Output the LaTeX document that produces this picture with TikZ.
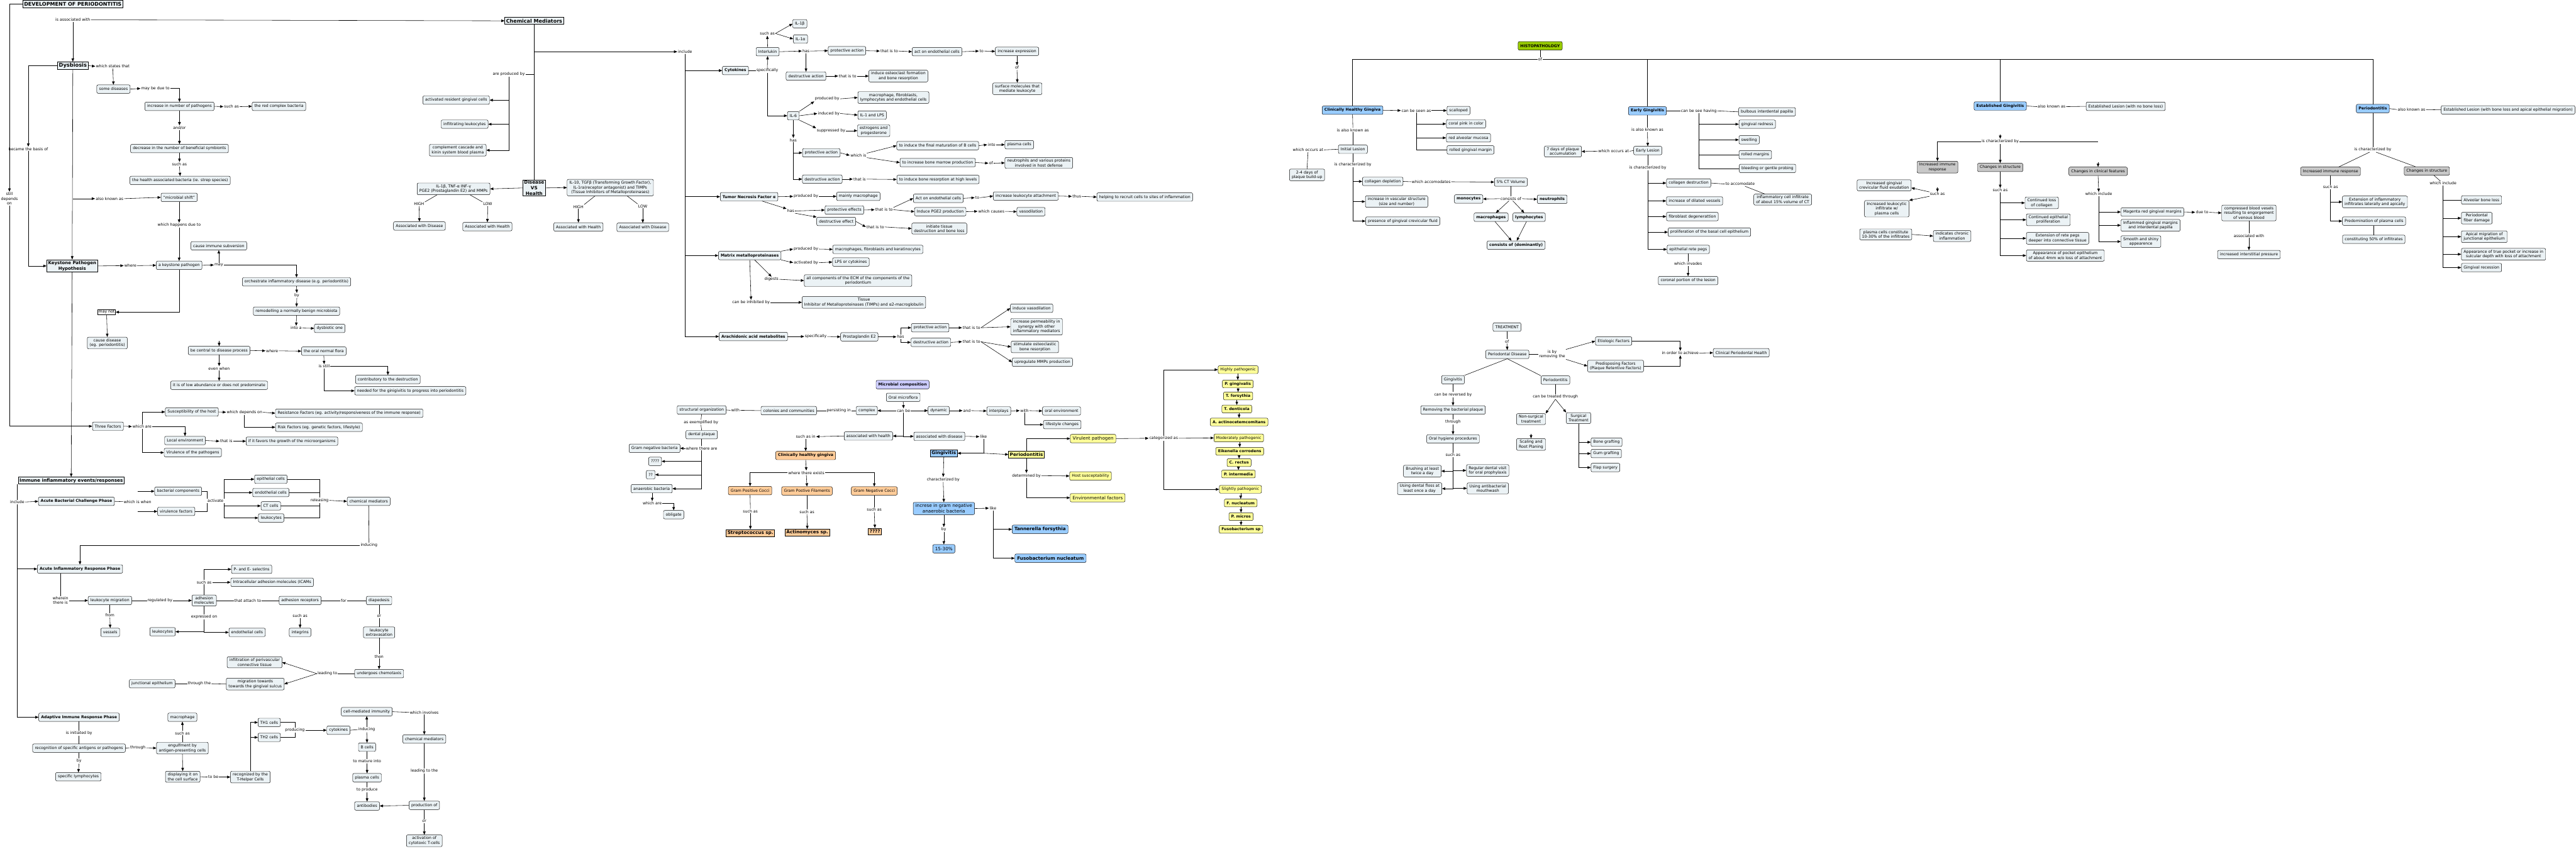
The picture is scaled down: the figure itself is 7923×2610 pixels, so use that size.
\documentclass[tikz,border=0pt]{standalone}
\usepackage{fontspec}
\setmainfont{DejaVu Sans}
\usetikzlibrary{arrows.meta}
\definecolor{nfill}{RGB}{235,242,245}
\definecolor{cblue}{RGB}{153,204,255}
\definecolor{cyel}{RGB}{255,255,153}
\definecolor{cora}{RGB}{255,204,153}
\definecolor{cgrn}{RGB}{153,204,0}
\definecolor{clav}{RGB}{204,204,255}
\definecolor{cgry}{RGB}{200,200,200}
\newcommand\fnorm{\fontsize{12}{14.5}\selectfont}
\newcommand\ffourteen{\fontsize{14}{17}\selectfont}
\newcommand\ftitle{\fontsize{15.5}{18}\selectfont\bfseries}
\newcommand\fdys{\fontsize{16}{19}\selectfont\bfseries}
\newcommand\fkph{\fontsize{13.5}{17}\selectfont\bfseries}
\newcommand\fimm{\fontsize{14}{17}\selectfont\bfseries}
\newcommand\fdvh{\fontsize{14}{16.8}\selectfont\bfseries}
\begin{document}
\begin{tikzpicture}[x=1pt,y=-1pt,
 box/.style={draw, rounded corners=4pt, fill=nfill, font=\fnorm, align=center, inner xsep=7pt, inner ysep=5pt, minimum height=26pt, line width=0.9pt},
 bbox/.style={box, font=\fnorm\bfseries},
 stg/.style={bbox, fill=cblue},
 gry/.style={box, fill=cgry},
 lab/.style={font=\fnorm, align=center, inner sep=2pt},
 tbox/.style={draw, line width=1.8pt, fill=nfill, align=center, inner xsep=4pt, inner ysep=2pt},
 rb14/.style={draw, line width=1pt, font=\ffourteen\bfseries, inner xsep=4pt, inner ysep=2pt, minimum height=21pt},
 ar/.style={-{Triangle[length=10pt,width=8pt]}, line width=1.1pt},
 ln/.style={line width=1.1pt}]
\fill[white] (0,0) rectangle (7923,2610);
\useasboundingbox (0,0) rectangle (7923,2610);

% ================= LEFT =================
\node[tbox,font=\ftitle,minimum height=24pt] (title) at (224,12) {DEVELOPMENT OF PERIODONTITIS};
\node[lab] (Lassoc) at (224,61) {is associated with};
\node[tbox,font=\ftitle,minimum height=21pt] (cm) at (1643,64) {Chemical Mediators};
\node[tbox,font=\fdys,minimum height=23pt] (dys) at (224,202) {Dysbiosis};
\node[lab] (Lstates) at (347,204) {which states that};
\node[box] (somedis) at (349,274) {some diseases};
\node[lab] (Lmaybe) at (478,272) {may be due to};
\node[box] (incpath) at (552,327) {increase in number of pathogens};
\node[lab] (Lsa1) at (712,328) {such as};
\node[box] (redcx) at (858,327) {the red complex bacteria};
\node[lab] (Landor) at (552,393) {and/or};
\node[box] (decsym) at (552,457) {decrease in the number of beneficial symbionts};
\node[lab] (Lsa2) at (552,505) {such as};
\node[box] (healthb) at (554,555) {the health associated bacteria (ie. strep species)};
\node[lab] (Lbasis) at (87,458) {became the basis of};
\node[lab] (Lstill) at (29,611) {still\\depends\\on};
\node[lab] (Laka) at (337,611) {also known as};
\node[box] (mshift) at (551,607) {``microbial shift''};
\node[lab] (Lhappens) at (551,693) {which happens due to};
\node[tbox,font=\fkph,minimum height=38pt] (kph) at (222,818) {Keystone Pathogen\\Hypothesis};
\node[lab] (Lwhere1) at (401,817) {where};
\node[box] (keyp) at (551,816) {a keystone pathogen};
\node[box] (cis) at (673,756) {cause immune subversion};
\node[lab] (Lmay) at (673,815) {may};
\node[box] (orch) at (912,867) {orchestrate inflammatory disease (e.g. periodontitis)};
\node[lab] (Lby1) at (913,909) {by};
\node[box] (remod) at (912,957) {remodelling a normally benign microbiota};
\node[lab] (Lintoa) at (911,1009) {into a};
\node[box] (dysone) at (1014,1010) {dysbiotic one};
\node[draw,fill=white,font=\fnorm,inner sep=2.5pt,line width=0.9pt] (maynot) at (328,960) {may not};
\node[box] (causedis) at (330,1055) {cause disease\\(eg. periodontitis)};
\node[box] (central) at (674,1078) {be central to disease process};
\node[lab] (Lwhere2) at (837,1079) {where};
\node[box] (oralflora) at (996,1080) {the oral normal flora};
\node[lab] (Levenwhen) at (674,1133) {even when};
\node[box] (lowab) at (674,1185) {it is of low abundance or does not predominate};
\node[lab] (Lisstill) at (997,1127) {is still};
\node[box] (contrib) at (1193,1167) {contributory to the destruction};
\node[box] (needed) at (1262,1202) {needed for the ginigivitis to progress into periodontitis};
\node[box] (three) at (332,1311) {Three Factors};
\node[lab] (Lwhichare) at (437,1312) {which are};
\node[box] (suscep) at (590,1267) {Susceptibility of the host};
\node[lab] (Ldepends) at (752,1268) {which depends on};
\node[box] (resist) at (1074,1271) {Resistance Factors (eg. activity/responsiveness of the immune response)};
\node[box] (risk) at (981,1314) {Risk Factors (eg. genetic factors, lifestyle)};
\node[box] (localenv) at (569,1355) {Local environment};
\node[lab] (Lthatis1) at (696,1357) {that is};
\node[box] (favors) at (898,1357) {if it favors the growth of the microorganisms};
\node[box] (virul) at (593,1392) {Virulence of the pathogens};

\node[tbox,font=\fimm,minimum height=21pt] (immune) at (219,1478) {Immune inflammatory events/responses};
\node[lab] (Linclude1) at (53,1544) {include};
\node[bbox] (abc) at (235,1542) {Acute Bacterial Challenge Phase};
\node[lab] (Lwhen) at (423,1543) {which is when};
\node[box] (bactcomp) at (548,1511) {bacterial components};
\node[box] (virfac) at (542,1573) {virulence factors};
\node[lab] (Lactivate) at (663,1541) {activate};
\node[box] (epi) at (833,1474) {epithelial cells};
\node[box] (endo) at (833,1515) {endothelial cells};
\node[box] (ctc) at (833,1556) {CT cells};
\node[box] (leukA) at (834,1593) {leukocytes};
\node[lab] (Lreleasing) at (983,1539) {releasing};
\node[box] (chemmedA) at (1134,1542) {chemical mediators};
\node[lab] (LinducingA) at (1135,1677) {inducing};

\node[bbox] (air) at (246,1750) {Acute Inflammatory Response Phase};
\node[lab] (Lwherein) at (186,1847) {wherein\\there is};
\node[box] (leukmig) at (338,1847) {leukocyte migration};
\node[lab] (Lregby) at (492,1847) {regulated by};
\node[box] (adhmol) at (628,1847) {adhesion\\molecules};
\node[lab] (Lsa3) at (628,1791) {such as};
\node[box] (pesel) at (774,1751) {P- and E- selectins};
\node[box] (icam) at (837,1791) {Intracellular adhesion molecules (ICAMs};
\node[lab] (Lattach) at (762,1847) {that attach to};
\node[box] (adhrec) at (923,1847) {adhesion receptors};
\node[lab] (Lfor) at (1057,1847) {for};
\node[box] (diaped) at (1166,1847) {diapedesis};
\node[lab] (Lfrom) at (338,1893) {from};
\node[box] (vessels) at (339,1945) {vessels};
\node[lab] (Lexpr) at (628,1898) {expressed on};
\node[box] (leukB) at (500,1943) {leukocytes};
\node[box] (endoB) at (760,1945) {endothelial cells};
\node[lab] (Lsa4) at (923,1895) {such as};
\node[box] (integ) at (923,1945) {integrins};
\node[lab] (Lor1) at (1166,1895) {or};
\node[box] (extrav) at (1166,1945) {leukocyte\\extravasation};
\node[lab] (Lthen) at (1166,2019) {then};
\node[box] (chemo) at (1166,2072) {undergoes chemotaxis};
\node[lab] (Lleading) at (1007,2072) {leading to};
\node[box] (infil) at (783,2037) {infiltration of perivascular\\connective tissue};
\node[box] (migtow) at (785,2104) {migration towards\\towards the gingival sulcus};
\node[lab] (Lthrough1) at (613,2103) {through the};
\node[box] (junct) at (468,2103) {junctional epithelium};

\node[bbox] (aip) at (243,2206) {Adaptive Immune Response Phase};
\node[lab] (Linit) at (243,2255) {is initiated by};
\node[box] (recog) at (243,2301) {recognition of specific antigens or pathogens};
\node[lab] (Lby2) at (243,2341) {by};
\node[box] (speclym) at (241,2389) {specific lymphocytes};
\node[lab] (Lthrough2) at (424,2300) {through};
\node[box] (engulf) at (561,2301) {engulfment by\\antigen-presenting cells};
\node[lab] (Lsa5) at (561,2255) {such as};
\node[box] (macroA) at (561,2206) {macrophage};
\node[box] (displ) at (562,2389) {displaying it on\\the cell surface};
\node[lab] (Ltobe) at (656,2390) {to be};
\node[box] (recogth) at (770,2390) {recognized by the\\T-Helper Cells};
\node[box] (th1) at (828,2222) {TH1 cells};
\node[box] (th2) at (828,2268) {TH2 cells};
\node[lab] (Lproducing) at (907,2246) {producing};
\node[box] (cytoA) at (1041,2246) {cytokines};
\node[lab] (LinducingB) at (1128,2244) {inducing};
\node[box] (cellmed) at (1128,2189) {cell-mediated immunity};
\node[box] (bcells) at (1129,2298) {B cells};
\node[lab] (Linvolves) at (1305,2191) {which involves};
\node[box] (chemmedB) at (1305,2273) {chemical mediators};
\node[lab] (Lmature) at (1129,2341) {to mature into};
\node[box] (plasmaA) at (1129,2392) {plasma cells};
\node[lab] (Ltoproduce) at (1129,2430) {to produce};
\node[box] (antib) at (1129,2479) {antibodies};
\node[lab] (Lleadingto) at (1305,2371) {leading to the};
\node[box] (prodof) at (1305,2477) {production of};
\node[lab] (Lor2) at (1305,2526) {or};
\node[box] (cytot) at (1305,2586) {activation of\\cytotoxic T-cells};

% ================= CHEMICAL MEDIATORS =================
\node[lab] (Lproduced) at (1565,228) {are produced by};
\node[box] (argc) at (1403,308) {activated resident gingival cells};
\node[box] (infleuk) at (1429,382) {infiltrating leukocytes};
\node[box] (compl) at (1408,462) {complement cascade and\\kinin system blood plasma};
\node[tbox,font=\fdvh] (dvh) at (1643,578) {Disease\\VS\\Health};
\node[box] (ilA) at (1395,581) {IL-1β, TNF-α INF-γ\\PGE2 (Prostaglandin E2) and MMPs};
\node[box] (ilB) at (1877,577) {IL-10, TGFβ (Transforming Growth Factor),\\IL-1ra(receptor antagonist) and TIMPs\\(Tissue Inhibitors of Metalloproteinases)};
\node[lab] (Lhigh1) at (1289,628) {HIGH};
\node[lab] (Llow1) at (1500,628) {LOW};
\node[box] (awd1) at (1290,695) {Associated with Disease};
\node[box] (awh1) at (1499,697) {Associated with Health};
\node[lab] (Lhigh2) at (1779,636) {HIGH};
\node[lab] (Llow2) at (1977,634) {LOW};
\node[box] (awh2) at (1779,698) {Associated with Health};
\node[box] (awd2) at (1977,699) {Associated with Disease};

\node[lab] (Linclude2) at (2107,159) {include};
\node[bbox] (cytok) at (2262,217) {Cytokines};
\node[lab] (Lspec1) at (2360,217) {specifically};
\node[box] (interl) at (2361,159) {Interlukin};
\node[lab] (Lsa6) at (2360,103) {such as};
\node[box] (il1b) at (2460,73) {IL-1β};
\node[box] (il1a) at (2462,120) {IL-1α};
\node[lab] (Lhas1) at (2479,157) {has};
\node[box] (prot1) at (2605,156) {protective action};
\node[box] (destr1) at (2479,234) {destructive action};
\node[lab] (Ltit1) at (2735,157) {that is to};
\node[box] (actendo1) at (2882,159) {act on endothelial cells};
\node[lab] (Lto1) at (3019,157) {to};
\node[box] (incexp) at (3128,158) {increase expression};
\node[lab] (Lof1) at (3128,208) {of};
\node[box] (surfmol) at (3129,273) {surface molecules that\\mediate leukocyte};
\node[lab] (Ltit2) at (2607,234) {that is to};
\node[box] (osteo) at (2763,234) {induce osteoclast formation\\and bone resorption};
\node[box] (il6) at (2440,356) {IL-6};
\node[lab] (Lprodby1) at (2544,304) {produced by};
\node[box,anchor=west] (macfib) at (2638,300) {macrophage, fibroblasts,\\lymphocytes and endothelial cells};
\node[lab] (Lindby) at (2549,349) {induced by};
\node[box,anchor=west] (il1lps) at (2638,354) {IL-1 and LPS};
\node[lab] (Lsuppby) at (2556,402) {suppressed by};
\node[box,anchor=west] (estro) at (2637,402) {estrogens and\\progesterone};
\node[lab] (Lhas2) at (2440,431) {has};
\node[box] (prot2) at (2526,470) {protective action};
\node[box] (destr2) at (2529,551) {destructive action};
\node[lab] (Lwhichis) at (2640,478) {which is};
\node[box] (finalmat) at (2884,448) {to induce the final maturation of B cells};
\node[lab] (Linto) at (3050,445) {into};
\node[box] (plasmaB) at (3135,445) {plasma cells};
\node[box] (bonemar) at (2884,500) {to increase bone marrow production};
\node[lab] (Lof2) at (3048,502) {of};
\node[box] (neutro) at (3195,501) {neutrophils and various proteins\\involved in host defense};
\node[lab] (Lthatis2) at (2644,551) {that is};
\node[box] (boneres) at (2885,552) {to induce bone resorption at high levels};

\node[bbox] (tnf) at (2304,605) {Tumor Necrosis Factor α};
\node[lab] (Lprodby2) at (2479,604) {produced by};
\node[box] (mainlymac) at (2640,604) {mainly macrophage};
\node[lab] (Lhas3) at (2432,649) {has};
\node[box] (proteff) at (2597,646) {protective effects};
\node[box] (destreff) at (2572,681) {destructive effect};
\node[lab] (Ltit3) at (2719,645) {that is to};
\node[box] (actendo2) at (2886,610) {Act on endothelial cells};
\node[lab] (Lto2) at (3006,608) {to};
\node[box] (incleuk) at (3155,603) {increase leukocyte attachment};
\node[lab] (Lthus) at (3312,604) {thus};
\node[box] (helping) at (3521,606) {helping to recruit cells to sites of inflammation};
\node[box] (indpge) at (2892,651) {Induce PGE2 production};
\node[lab] (Lcauses) at (3049,650) {which causes};
\node[box] (vasod) at (3171,651) {vasodilation};
\node[lab] (Ltit4) at (2692,698) {that is to};
\node[box] (initiate) at (2889,703) {initiate tissue\\destruction and bone loss};

\node[bbox] (mmp) at (2306,786) {Matrix metalloproteinases};
\node[lab] (Lprodby3) at (2479,766) {produced by};
\node[box] (macker) at (2700,767) {macrophages, fibroblasts and keratinocytes};
\node[lab] (Lactby) at (2479,808) {activated by};
\node[box] (lpscyt) at (2617,806) {LPS or cytokines};
\node[lab] (Ldigests) at (2373,859) {digests};
\node[box] (ecm) at (2639,863) {all components of the ECM of the components of the\\periodontium};
\node[lab] (Linhib) at (2310,930) {can be inhibited by};
\node[box] (timps) at (2657,930) {Tissue\\Inhibitor of Metalloproteinases (TIMPs) and α2-macroglobulin};

\node[bbox] (ara) at (2317,1035) {Arachidonic acid metabolites};
\node[lab] (Lspec2) at (2509,1035) {specifically};
\node[box] (pge2) at (2643,1036) {Prostaglandin E2};
\node[lab] (Lhas4) at (2770,1036) {has};
\node[box] (prot3) at (2861,1008) {protective action};
\node[box] (destr3) at (2863,1053) {destructive action};
\node[lab] (Ltit5) at (2988,1008) {that is to};
\node[lab] (Ltit6) at (2988,1051) {that is to};
\node[box] (indvaso) at (3173,948) {induce vasodilation};
\node[box] (perm) at (3188,1005) {increase permeability in\\synergy with other\\inflammatory mediators};
\node[box] (stimost) at (3183,1067) {stimulate osteoclastic\\bone resorption};
\node[box] (upreg) at (3206,1114) {upregulate MMPs production};

% ================= MICROBIAL =================
\node[bbox,fill=clav] (microb) at (2776,1183) {Microbial composition};
\node[box] (oralmf) at (2778,1222) {Oral microflora};
\node[lab] (Lcanbe) at (2779,1263) {can be};
\node[box] (complex) at (2666,1263) {complex};
\node[lab] (Lpersist) at (2580,1263) {persisting in};
\node[box] (colonies) at (2426,1263) {colonies and communities};
\node[lab] (Lwith1) at (2262,1262) {with};
\node[box] (structorg) at (2158,1261) {structural organization};
\node[lab] (Lexempl) at (2156,1299) {as exemplified by};
\node[box] (dentpl) at (2158,1337) {dental plaque};
\node[lab] (Lwherethere) at (2158,1379) {where there are};
\node[box,anchor=east] (gnb) at (2092,1379) {Gram negative bacteria};
\node[box,anchor=east] (q4) at (2035,1419) {????};
\node[box,anchor=east] (q2) at (2015,1460) {??};
\node[box,anchor=east] (anaer) at (2068,1503) {anaerobic bacteria};
\node[lab] (Lwhichare2) at (2006,1548) {which are};
\node[box] (oblig) at (2072,1583) {obligate};
\node[box] (dynamic) at (2887,1263) {dynamic};
\node[lab] (Land) at (2974,1263) {and};
\node[box] (interpl) at (3072,1264) {interplays};
\node[lab] (Lwith2) at (3151,1263) {with};
\node[box] (oralenv) at (3265,1264) {oral environment};
\node[box] (lifest) at (3267,1306) {lifestyle changes};
\node[box] (assochealth) at (2671,1341) {associated with health};
\node[box] (assocdis) at (2889,1342) {associated with disease};
\node[lab] (Lsuchasin) at (2478,1343) {such as in};
\node[bbox,fill=cora] (chgo) at (2478,1401) {Clinically healthy gingiva};
\node[lab] (Lexists) at (2480,1454) {where there exists};
\node[box,fill=cora] (gpc) at (2307,1509) {Gram Positive Cocci};
\node[box,fill=cora] (gpf) at (2482,1510) {Gram Postive Filaments};
\node[box,fill=cora] (gnc) at (2689,1510) {Gram Negative Cocci};
\node[lab] (Lsa7) at (2308,1572) {such as};
\node[lab] (Lsa8) at (2482,1574) {such as};
\node[lab] (Lsa9) at (2689,1568) {such as};
\node[rb14,fill=cora] (strep) at (2308,1639) {Streptococcus sp.};
\node[rb14,fill=cora] (actino) at (2483,1638) {Actinomyces sp.};
\node[rb14,fill=cora] (qq) at (2691,1635) {????};
\node[lab] (Llike1) at (3025,1343) {like};
\node[rb14,fill=cblue] (ging) at (2903,1394) {Gingivitis};
\node[rb14,fill=cyel] (perio) at (3157,1398) {Periodontitis};
\node[lab] (Lchar) at (2901,1475) {characterized by};
\node[box,fill=cblue,font=\ffourteen] (incgn) at (2903,1564) {increse in gram negative\\anaerobic bacteria};
\node[lab] (Llike2) at (3054,1563) {like};
\node[box,fill=cblue,font=\ffourteen\bfseries] (tann) at (3199,1628) {Tannerella forsythia};
\node[box,fill=cblue,font=\ffourteen\bfseries] (fuso) at (3231,1717) {Fusobacterium nucleatum};
\node[lab] (Lby3) at (2903,1629) {by};
\node[box,fill=cblue,font=\ffourteen] (pct) at (2903,1688) {15-30\%};
\node[box,fill=cyel,font=\ffourteen] (virp) at (3362,1349) {Virulent pathogen};
\node[lab] (Ldeterm) at (3157,1463) {determined by};
\node[box,fill=cyel] (hostsus) at (3354,1464) {Host susceptability};
\node[box,fill=cyel,font=\ffourteen] (envf) at (3376,1531) {Environmental factors};
\node[lab] (Lcateg) at (3579,1348) {categorized as};
\node[box,fill=cyel,minimum height=24pt] (highp) at (3808,1137) {Highly pathogenic};
\node[bbox,fill=cyel,minimum height=24pt] (pging) at (3807,1181) {P. gingivalis};
\node[bbox,fill=cyel,minimum height=24pt] (tfors) at (3808,1218) {T. forsythia};
\node[bbox,fill=cyel,minimum height=24pt] (tdent) at (3804,1258) {T. denticola};
\node[bbox,fill=cyel,minimum height=24pt] (aact) at (3811,1298) {A. actinocetemcomitans};
\node[box,fill=cyel,minimum height=24pt] (modp) at (3810,1347) {Moderately pathogenic};
\node[bbox,fill=cyel,minimum height=24pt] (eik) at (3813,1388) {Eikenella corrodens};
\node[bbox,fill=cyel,minimum height=24pt] (crect) at (3811,1423) {C. rectus};
\node[bbox,fill=cyel,minimum height=24pt] (pinter) at (3809,1458) {P. intermedia};
\node[box,fill=cyel,minimum height=24pt] (slightp) at (3815,1505) {Slightly pathogenic};
\node[bbox,fill=cyel,minimum height=24pt] (fnuc) at (3816,1547) {F. nucleatum};
\node[bbox,fill=cyel,minimum height=24pt] (pmic) at (3817,1589) {P. micros};
\node[bbox,fill=cyel,minimum height=24pt] (fusosp) at (3817,1628) {Fusobacterium sp};

% ================= TREATMENT =================
\node[box] (treat) at (4635,1006) {TREATMENT};
\node[lab] (Loftreat) at (4635,1050) {of};
\node[box] (pdis) at (4636,1090) {Periodontal Disease};
\node[lab] (Lisby) at (4774,1090) {is by\\removing the};
\node[box] (etio) at (4963,1049) {Etiologic Factors};
\node[box] (predisp) at (4969,1126) {Predisposing Factors\\(Plaque Retentive Factors)};
\node[lab] (Lachieve) at (5168,1086) {in order to achieve};
\node[box,anchor=west] (cph) at (5269,1085) {Clinical Periodontal Health};
\node[box] (gingB) at (4469,1168) {Gingivitis};
\node[box] (perioB) at (4784,1169) {Periodontitis};
\node[lab] (Lreversed) at (4469,1214) {can be reversed by};
\node[box] (removing) at (4469,1261) {Removing the bacterial plaque};
\node[lab] (Lthrough3) at (4469,1298) {through};
\node[box] (ohp) at (4469,1350) {Oral hygiene procedures};
\node[lab] (Lsa10) at (4469,1399) {such as};
\node[box,anchor=east] (brush) at (4433,1449) {Brushing at least\\twice a day};
\node[box,anchor=west] (regular) at (4510,1447) {Regular dental visit\\for oral prophylaxis};
\node[box,anchor=east] (floss) at (4435,1503) {Using dental floss at\\least once a day};
\node[box,anchor=west] (mouthw) at (4512,1502) {Using antibacterial\\mouthwash};
\node[lab] (Ltreated) at (4784,1220) {can be treated through};
\node[box] (nonsurg) at (4709,1289) {Non-surgical\\treatment};
\node[box] (surg) at (4855,1286) {Surgical\\Treatment};
\node[box] (scaling) at (4709,1367) {Scaling and\\Root Planing};
\node[box,anchor=west] (bonegr) at (4893,1360) {Bone grafting};
\node[box,anchor=west] (gumgr) at (4893,1395) {Gum grafting};
\node[box,anchor=west] (flap) at (4893,1438) {Flap surgery};

% ================= HISTOPATHOLOGY =================
\node[bbox,fill=cgrn] (histo) at (4737,141) {HISTOPATHOLOGY};
\node[lab] (Lofhist) at (4737,182) {of};
\node[stg] (chg) at (4160,339) {Clinically Healthy Gingiva};
\node[lab] (Lseenas) at (4356,340) {can be seen as};
\node[box,anchor=west] (scall) at (4450,340) {scalloped};
\node[box,anchor=west] (coral) at (4448,381) {coral pink in color};
\node[box,anchor=west] (redalv) at (4448,424) {red alveolar mucosa};
\node[box,anchor=west] (rolledg) at (4450,461) {rolled gingival margin};
\node[lab] (Laka2) at (4161,400) {is also known as};
\node[box] (initles) at (4161,459) {Initial Lesion};
\node[lab] (Loccurs1) at (4023,461) {which occurs at};
\node[box] (days24) at (4020,538) {2-4 days of\\plaque build-up};
\node[lab] (Lcharby1) at (4161,507) {is characterized by};
\node[box,anchor=west] (colldep) at (4190,558) {collagen depletion};
\node[box,anchor=west] (incvasc) at (4199,620) {increase in vascular structure\\(size and number)};
\node[box,anchor=west] (gcf) at (4200,680) {presence of gingival crevicular fluid};
\node[lab] (Laccom) at (4402,559) {which accomodates};
\node[box] (ct5) at (4647,560) {5\% CT Volume};
\node[lab] (Lconsists) at (4647,611) {consists of};
\node[bbox] (mono) at (4517,612) {monocytes};
\node[bbox] (neut) at (4774,613) {neutrophils};
\node[bbox] (macs) at (4586,668) {macrophages};
\node[bbox] (lymph) at (4703,668) {lymphocytes};
\node[bbox] (domin) at (4663,754) {consists of (dominantly)};

\node[stg] (eg) at (5067,341) {Early Gingivitis};
\node[lab] (Lseehaving) at (5225,341) {can be see having};
\node[box,anchor=west] (bulb) at (5347,344) {bulbous interdental papilla};
\node[box,anchor=west] (gred) at (5348,382) {gingival redness};
\node[box,anchor=west] (swell) at (5348,430) {swelling};
\node[box,anchor=west] (rollm) at (5348,476) {rolled margins};
\node[box,anchor=west] (bleed) at (5349,518) {bleeding or gentle probing};
\node[lab] (Laka3) at (5067,399) {is also known as};
\node[box] (earlyles) at (5068,463) {Early Lesion};
\node[lab] (Loccurs2) at (4963,465) {which occurs at};
\node[box] (days7) at (4807,466) {7 days of plaque\\accumulation};
\node[lab] (Lcharby2) at (5068,516) {is characterized by};
\node[box,anchor=west] (colldes) at (5125,563) {collagen destruction};
\node[box,anchor=west] (dilated) at (5125,618) {increase of dilated vessels};
\node[box,anchor=west] (fibro) at (5125,666) {fibroblast degenerattion};
\node[box,anchor=west] (prolif) at (5130,714) {proliferation of the basal cell epithelium};
\node[box,anchor=west] (rete) at (5127,767) {epithelial rete pegs};
\node[lab] (Laccom2) at (5352,566) {to accomodate};
\node[box] (infl15) at (5483,614) {inflammatory cell infiltrate\\of about 15\% volume of CT};
\node[lab] (Linvades) at (5192,811) {which invades};
\node[box] (coronal) at (5192,863) {coronal portion of the lesion};

\node[stg] (estg) at (6152,326) {Established Gingivitis};
\node[lab] (Laka4) at (6310,328) {also known as};
\node[box] (estles1) at (6538,327) {Established Lesion (with no bone loss)};
\node[lab] (Lcharby3) at (6152,435) {is characterized by};
\node[gry] (iirA) at (5959,514) {Increased immune\\response};
\node[gry] (cisA) at (6152,515) {Changes in structure};
\node[gry] (ccf) at (6453,527) {Changes in clinical features};
\node[lab] (Lsa11) at (5959,597) {such as};
\node[box] (igcf) at (5795,570) {Increased gingival\\crevicular fluid exudation};
\node[box] (ilinf) at (5803,642) {Increased leukocytic\\infiltrate w/\\plasma cells};
\node[box] (pc1030) at (5800,721) {plasma cells constitute\\10-30\% of the infiltrates};
\node[box] (chronic) at (6004,726) {indicates chronic\\inflammation};
\node[lab] (Lsa12) at (6152,585) {such as};
\node[box,anchor=west] (contloss) at (6228,624) {Continued loss\\of collagen};
\node[box,anchor=west] (contepi) at (6232,676) {Continued epithelial\\proliferation};
\node[box,anchor=west] (extrete) at (6232,733) {Extension of rete pegs\\deeper into connective tissue};
\node[box,anchor=west] (apppock) at (6232,786) {Appearance of pocket epithelium\\of about 4mm w/o loss of attachment};
\node[lab] (Linclude3) at (6455,597) {which include};
\node[box,anchor=west] (magenta) at (6523,652) {Magenta red gingival margins};
\node[box,anchor=west] (inflgm) at (6523,693) {Inflammed gingival margins\\and interdental papilla};
\node[box,anchor=west] (smooth) at (6523,743) {Smooth and shiny\\appearence};
\node[lab] (Ldueto) at (6773,653) {due to};
\node[box] (compr) at (6917,655) {compressed blood vesels\\resulting to engorgement\\of venous blood};
\node[lab] (Lassocw) at (6917,725) {associated with};
\node[box] (interst) at (6917,783) {increased interstitial pressure};

\node[stg] (per) at (7298,334) {Periodontitis};
\node[lab] (Laka5) at (7417,337) {also known as};
\node[box] (estles2) at (7714,338) {Established Lesion (with bone loss and apical epithelial migration)};
\node[lab] (Lcharby4) at (7298,460) {is characterized by};
\node[gry] (iirB) at (7168,527) {Increased immune response};
\node[gry] (cisB) at (7464,526) {Changes in structure};
\node[lab] (Lsa13) at (7168,575) {such as};
\node[box,anchor=west] (extinf) at (7204,621) {Extension of inflammatory\\infiltrates laterally and apically};
\node[box,anchor=west] (predom) at (7204,680) {Predomination of plasma cells};
\node[box] (const50) at (7301,736) {constituting 50\% of infiltrates};
\node[lab] (Linclude4) at (7514,564) {which include};
\node[box,anchor=west] (alv) at (7570,615) {Alveolar bone loss};
\node[box,anchor=west] (pfd) at (7570,671) {Periodontal\\fiber damage};
\node[box,anchor=west] (apical) at (7570,728) {Apical migration of\\junctional epithelium};
\node[box,anchor=west] (apptrue) at (7570,782) {Appearance of true pocket or increase in\\sulcular depth with loss of attachment};
\node[box,anchor=west] (grec) at (7570,823) {Gingival recession};

% ================= EDGES: LEFT =================
\draw[ar] (title.west) -| (Lstill.north);
\draw[ar] (Lstill.south) |- (three.west);
\draw[ar] (Lassoc.east) -- (cm.west);
\draw[ar] (Lassoc.south) -- (dys.north);
\draw[ar] (dys.east) -- (Lstates.west);
\draw[ar] (Lstates.south) -- (somedis.north);
\draw[ar] (somedis.east) -- (Lmaybe.west);
\draw[ar] (Lmaybe.east) -| (incpath.north);
\draw[ar] (incpath.east) -- (Lsa1.west);
\draw[ar] (Lsa1.east) -- (redcx.west);
\draw[ar] (incpath.south) -- (Landor.north);
\draw[ar] (Landor.south) -- (decsym.north);
\draw[ar] (decsym.south) -- (Lsa2.north);
\draw[ar] (Lsa2.south) -- (healthb.north);
\draw[ar] (dys.west) -| (Lbasis.north);
\draw[ar] (Lbasis.south) |- (kph.west);
\draw[ar] (dys.south) -- (kph.north);
\draw[ar] (dys.south |- Laka.west) -- (Laka.west);
\draw[ar] (Laka.east) -- (mshift.west);
\draw[ar] (mshift.south) -- (Lhappens.north);
\draw[ar] (Lhappens.south) -- (keyp.north);
\draw[ar] (kph.east) -- (Lwhere1.west);
\draw[ar] (Lwhere1.east) -- (keyp.west);
\draw[ar] (kph.south) -- (immune.north);
\draw[ar] (keyp.east) -- (Lmay.west);
\draw[ar] (Lmay.north) -- (cis.south);
\draw[ar] (Lmay.east) -| (orch.north);
\draw[ar] ([yshift=16pt]central.north) -- (central.north);
\draw[ar] (orch.south) -- (Lby1.north);
\draw[ar] (Lby1.south) -- (remod.north);
\draw[ar] (remod.south) -- (Lintoa.north);
\draw[ar] (Lintoa.east) -- (dysone.west);
\draw[ar] (keyp.south) |- (maynot.east);
\draw[ar] (maynot.south) -- (causedis.north);
\draw[ar] (central.east) -- (Lwhere2.west);
\draw[ar] (Lwhere2.east) -- (oralflora.west);
\draw[ar] (central.south) -- (Levenwhen.north);
\draw[ar] (Levenwhen.south) -- (lowab.north);
\draw[ar] (oralflora.south) -- (Lisstill.north);
\draw[ar] (Lisstill.east) -| (contrib.north);
\draw[ar] (Lisstill.south) |- (needed.west);
\draw[ar] (three.east) -- (Lwhichare.west);
\draw[ar] (Lwhichare.north) |- (suscep.west);
\draw[ar] (Lwhichare.south) |- (virul.west);
\draw[ar] (Lwhichare.east) -| (localenv.north);
\draw[ar] (suscep.east) -- (Ldepends.west);
\draw[ar] (Ldepends.east) -- (resist.west);
\draw[ar] (Ldepends.south) |- (risk.west);
\draw[ar] (localenv.east) -- (Lthatis1.west);
\draw[ar] (Lthatis1.east) -- (favors.west);

\draw[ln] (Linclude1.north |- immune.south) -- (Linclude1.north);
\draw[ar] (Linclude1.east) -- (abc.west);
\draw[ar] (Linclude1.south) |- (aip.west);
\draw[ar] (Linclude1.south |- air.west) -- (air.west);
\draw[ln] (abc.east) -- (Lwhen.west);
\draw[ar] (Lwhen.center |- bactcomp.west) -- (bactcomp.west);
\draw[ar] (Lwhen.center |- virfac.west) -- (virfac.west);
\draw[ln] (bactcomp.east) -| (Lactivate.north west);
\draw[ln] (virfac.east) -| (Lactivate.south west);
\draw[ar] (Lactivate.north east) |- (epi.west);
\draw[ar] (Lactivate.north east) |- (endo.west);
\draw[ar] (Lactivate.south east) |- (ctc.west);
\draw[ar] (Lactivate.south east) |- (leukA.west);
\draw[ln] (epi.east) -| (Lreleasing.north);
\draw[ln] (endo.east) -| (Lreleasing.north);
\draw[ln] (ctc.east) -| (Lreleasing.south);
\draw[ln] (leukA.east) -| (Lreleasing.south);
\draw[ar] (Lreleasing.east) -- (chemmedA.west);
\draw[ln] (chemmedA.south) -- (LinducingA.north);
\draw[ar] (LinducingA.west) -| (air.north);

\draw[ln] (Lwherein.north |- air.south) -- (Lwherein.north);
\draw[ar] (Lwherein.east) -- (leukmig.west);
\draw[ln] (leukmig.east) -- (Lregby.west);
\draw[ar] (Lregby.east) -- (adhmol.west);
\draw[ln] (adhmol.north) -- (Lsa3.south);
\draw[ar] (Lsa3.east) -- (icam.west);
\draw[ar] (Lsa3.north) |- (pesel.west);
\draw[ln] (adhmol.east) -- (Lattach.west);
\draw[ln] (Lattach.east) -- (adhrec.west);
\draw[ln] (adhrec.east) -- (Lfor.west);
\draw[ln] (Lfor.east) -- (diaped.west);
\draw[ln] (leukmig.south) -- (Lfrom.north);
\draw[ar] (Lfrom.south) -- (vessels.north);
\draw[ln] (adhmol.south) -- (Lexpr.north);
\draw[ar] (Lexpr.south) |- (leukB.east);
\draw[ar] (Lexpr.south) |- (endoB.west);
\draw[ar] (Lsa4.south) -- (integ.north);
\draw[ln] (diaped.south) -- (Lor1.north);
\draw[ln] (Lor1.south) -- (extrav.north);
\draw[ln] (extrav.south) -- (Lthen.north);
\draw[ar] (Lthen.south) -- (chemo.north);
\draw[ln] (chemo.west) -- (Lleading.east);
\draw[ar] (Lleading.west) -- (infil.east);
\draw[ar] (Lleading.west) -- (migtow.east);
\draw[ln] (migtow.west) -- (Lthrough1.east);
\draw[ln] (Lthrough1.west) -- (junct.east);

\draw[ln] (aip.south) -- (Linit.north);
\draw[ln] (Linit.south) -- (recog.north);
\draw[ln] (recog.south) -- (Lby2.north);
\draw[ar] (Lby2.south) -- (speclym.north);
\draw[ln] (recog.east) -- (Lthrough2.west);
\draw[ar] (Lthrough2.east) -- (engulf.west);
\draw[ln] (engulf.north) -- (Lsa5.south);
\draw[ar] (Lsa5.north) -- (macroA.south);
\draw[ar] (engulf.south) -- (displ.north);
\draw[ln] (displ.east) -- (Ltobe.west);
\draw[ar] (Ltobe.east) -- (recogth.west);
\draw[ar] (recogth.north) |- (th1.west);
\draw[ar] (recogth.north) |- (th2.west);
\draw[ln] (th1.east) -| (Lproducing.north);
\draw[ln] (th2.east) -| (Lproducing.south);
\draw[ar] (Lproducing.east) -- (cytoA.west);
\draw[ln] (cytoA.east) -- (LinducingB.west);
\draw[ar] (LinducingB.north) -- (cellmed.south);
\draw[ar] (LinducingB.south) -- (bcells.north);
\draw[ln] (cellmed.east) -- (Linvolves.west);
\draw[ar] (Linvolves.south) -- (chemmedB.north);
\draw[ln] (bcells.south) -- (Lmature.north);
\draw[ar] (Lmature.south) -- (plasmaA.north);
\draw[ln] (plasmaA.south) -- (Ltoproduce.north);
\draw[ar] (Ltoproduce.south) -- (antib.north);
\draw[ln] (chemmedB.south) -- (Lleadingto.north);
\draw[ar] (Lleadingto.south) -- (prodof.north);
\draw[ar] (prodof.west) -- (antib.east);
\draw[ln] (prodof.south) -- (Lor2.north);
\draw[ar] (Lor2.south) -- (cytot.north);

% ================= EDGES: CHEM =================
\draw[ln] (cm.south) -- (dvh.north);
\draw[ar] (cm.south |- Linclude2.west) -- (Linclude2.west);
\draw[ln] (Lproduced.east) -- (cm.south |- Lproduced.east);
\draw[ar] (Lproduced.south) |- (argc.east);
\draw[ar] (Lproduced.south) |- (infleuk.east);
\draw[ar] (Lproduced.south) |- (compl.east);
\draw[ar] (dvh.west) -- (ilA.east);
\draw[ar] (dvh.east) -- (ilB.west);
\draw[ln] ([xshift=-51pt]ilA.south) -- (Lhigh1.north east);
\draw[ln] ([xshift=51pt]ilA.south) -- (Llow1.north west);
\draw[ar] (Lhigh1.south) -- (awd1.north);
\draw[ar] (Llow1.south) -- (awh1.north);
\draw[ln] ([xshift=-47pt]ilB.south) -- (Lhigh2.north east);
\draw[ln] ([xshift=52pt]ilB.south) -- (Llow2.north west);
\draw[ar] (Lhigh2.south) -- (awh2.north);
\draw[ar] (Llow2.south) -- (awd2.north);
\draw[ar] (Linclude2.south) |- (cytok.west);
\draw[ar] (Linclude2.south) |- (tnf.west);
\draw[ar] (Linclude2.south) |- (mmp.west);
\draw[ar] (Linclude2.south) |- (ara.west);
\draw[ln] (cytok.east) -- (Lspec1.west);
\draw[ar] (Lspec1.north) -- (interl.south);
\draw[ar] (Lspec1.south) |- (il6.west);
\draw[ar] (interl.north) -- (Lsa6.south);
\draw[ar] (Lsa6.east) -- (il1b.west);
\draw[ar] (Lsa6.east) -- (il1a.west);
\draw[ar] (interl.east) -- (Lhas1.west);
\draw[ar] (Lhas1.east) -- (prot1.west);
\draw[ar] (Lhas1.south) -- (destr1.north);
\draw[ar] (prot1.east) -- (Ltit1.west);
\draw[ar] (Ltit1.east) -- (actendo1.west);
\draw[ar] (actendo1.east) -- (Lto1.west);
\draw[ar] (Lto1.east) -- (incexp.west);
\draw[ar] (incexp.south) -- (Lof1.north);
\draw[ar] (Lof1.south) -- (surfmol.north);
\draw[ar] (destr1.east) -- (Ltit2.west);
\draw[ar] (Ltit2.east) -- (osteo.west);
\draw[ar] (il6.north east) -- (Lprodby1.south west);
\draw[ar] (Lprodby1.east) -- (macfib.west);
\draw[ar] (il6.east) -- (Lindby.west);
\draw[ar] (Lindby.east) -- (il1lps.west);
\draw[ar] (il6.south east) -- (Lsuppby.north west);
\draw[ar] (Lsuppby.east) -- (estro.west);
\draw[ar] (il6.south) -- (Lhas2.north);
\draw[ar] (Lhas2.south) |- (prot2.west);
\draw[ar] (Lhas2.south) |- (destr2.west);
\draw[ar] (prot2.east) -- (Lwhichis.west);
\draw[ar] (Lwhichis.north east) -- (finalmat.west);
\draw[ar] (Lwhichis.south east) -- (bonemar.west);
\draw[ar] (finalmat.east) -- (Linto.west);
\draw[ar] (Linto.east) -- (plasmaB.west);
\draw[ar] (bonemar.east) -- (Lof2.west);
\draw[ar] (Lof2.east) -- (neutro.west);
\draw[ar] (destr2.east) -- (Lthatis2.west);
\draw[ar] (Lthatis2.east) -- (boneres.west);
\draw[ar] (tnf.east) -- (Lprodby2.west);
\draw[ar] (Lprodby2.east) -- (mainlymac.west);
\draw[ar] ([xshift=40pt]tnf.south) -- (Lhas3.north west);
\draw[ar] (Lhas3.east) -- (proteff.west);
\draw[ar] (Lhas3.south east) -- (destreff.north west);
\draw[ar] (proteff.east) -- (Ltit3.west);
\draw[ar] (Ltit3.north east) -- (actendo2.west);
\draw[ar] (Ltit3.east) -- (indpge.west);
\draw[ar] (actendo2.east) -- (Lto2.west);
\draw[ar] (Lto2.east) -- (incleuk.west);
\draw[ar] (incleuk.east) -- (Lthus.west);
\draw[ar] (Lthus.east) -- (helping.west);
\draw[ar] (indpge.east) -- (Lcauses.west);
\draw[ar] (Lcauses.east) -- (vasod.west);
\draw[ar] (destreff.east) -- (Ltit4.west);
\draw[ar] (Ltit4.east) -- (initiate.west);
\draw[ar] (mmp.north east) -- (Lprodby3.west);
\draw[ar] (Lprodby3.east) -- (macker.west);
\draw[ar] (mmp.south east) -- (Lactby.west);
\draw[ar] (Lactby.east) -- (lpscyt.west);
\draw[ar] ([xshift=15pt]mmp.south) -- (Ldigests.north);
\draw[ar] (Ldigests.east) -- (ecm.west);
\draw[ar] (mmp.south) -- (Linhib.north);
\draw[ar] (Linhib.east) -- (timps.west);
\draw[ar] (ara.east) -- (Lspec2.west);
\draw[ar] (Lspec2.east) -- (pge2.west);
\draw[ar] (pge2.east) -- (Lhas4.west);
\draw[ar] (Lhas4.north) |- (prot3.west);
\draw[ar] (Lhas4.south) |- (destr3.west);
\draw[ar] (prot3.east) -- (Ltit5.west);
\draw[ar] (Ltit5.east) -- (indvaso.west);
\draw[ar] (Ltit5.east) -- (perm.west);
\draw[ar] (destr3.east) -- (Ltit6.west);
\draw[ar] (Ltit6.east) -- (stimost.west);
\draw[ar] (Ltit6.east) -- (upreg.west);

% ================= EDGES: MICROBIAL =================
\draw[ar] (oralmf.south) -- (Lcanbe.north);
\draw[ar] (Lcanbe.west) -- (complex.east);
\draw[ar] (Lcanbe.east) -- (dynamic.west);
\draw[ln] (complex.west) -- (Lpersist.east);
\draw[ln] (Lpersist.west) -- (colonies.east);
\draw[ln] (colonies.west) -- (Lwith1.east);
\draw[ln] (Lwith1.west) -- (structorg.east);
\draw[ln] (structorg.south) -- (Lexempl.north);
\draw[ln] (Lexempl.south) -- (dentpl.north);
\draw[ln] (dentpl.south) -- (Lwherethere.north);
\draw[ar] (Lwherethere.west) -- (gnb.east);
\draw[ar] (Lwherethere.south) |- (q4.east);
\draw[ar] (Lwherethere.south) |- (q2.east);
\draw[ar] (Lwherethere.south) |- (anaer.east);
\draw[ar] (Lwhichare2.north |- anaer.south) -- (Lwhichare2.north);
\draw[ar] (Lwhichare2.east) -| (oblig.north);
\draw[ar] (dynamic.east) -- (Land.west);
\draw[ar] (Land.east) -- (interpl.west);
\draw[ar] (interpl.east) -- (Lwith2.west);
\draw[ar] (Lwith2.east) -- (oralenv.west);
\draw[ar] (Lwith2.south) |- (lifest.west);
\draw[ar] (Lcanbe.south) |- (assochealth.east);
\draw[ar] (Lcanbe.south) |- (assocdis.west);
\draw[ar] (assochealth.west) -- (Lsuchasin.east);
\draw[ar] (Lsuchasin.south) -- (chgo.north);
\draw[ar] (chgo.south) -- (Lexists.north);
\draw[ar] (Lexists.west) -| (gpc.north);
\draw[ar] (Lexists.south) -- (gpf.north);
\draw[ar] (Lexists.east) -| (gnc.north);
\draw[ln] (gpc.south) -- (Lsa7.north);
\draw[ar] (Lsa7.south) -- (strep.north);
\draw[ln] (gpf.south) -- (Lsa8.north);
\draw[ar] (Lsa8.south) -- (actino.north);
\draw[ln] (gnc.south) -- (Lsa9.north);
\draw[ar] (Lsa9.south) -- (qq.north);
\draw[ar] (assocdis.east) -- (Llike1.west);
\draw[ar] (Llike1.south) |- (ging.east);
\draw[ar] (Llike1.south |- ging.east) -- (perio.west);
\draw[ar] (ging.south) -- (Lchar.north);
\draw[ar] (Lchar.south) -- (incgn.north);
\draw[ar] (incgn.east) -- (Llike2.west);
\draw[ar] (Llike2.south) |- (tann.west);
\draw[ar] (Llike2.south) |- (fuso.west);
\draw[ar] (incgn.south) -- (Lby3.north);
\draw[ar] (Lby3.south) -- (pct.north);
\draw[ar] (perio.north) |- (virp.west);
\draw[ar] (perio.south) -- (Ldeterm.north);
\draw[ar] (Ldeterm.east) -- (hostsus.west);
\draw[ar] (Ldeterm.south) |- (envf.west);
\draw[ar] (virp.east) -- (Lcateg.west);
\draw[ar] (Lcateg.north) |- (highp.west);
\draw[ar] (Lcateg.east) -- (modp.west);
\draw[ar] (Lcateg.south) |- (slightp.west);
\foreach \a/\b in {highp/pging,pging/tfors,tfors/tdent,tdent/aact,modp/eik,eik/crect,crect/pinter,slightp/fnuc,fnuc/pmic,pmic/fusosp}
  \draw[ar] (\b.north |- \a.south) -- (\b.north);

% ================= EDGES: TREATMENT =================
\draw[ln] (treat.south) -- (Loftreat.north);
\draw[ar] (Loftreat.south) -- (pdis.north);
\draw[ln] (pdis.east) -- (Lisby.west);
\draw[ar] (Lisby.north east) -- (etio.west);
\draw[ar] (Lisby.south east) -- (predisp.west);
\draw[ar] (etio.east) -| (Lachieve.north);
\draw[ar] (predisp.east) -| (Lachieve.south);
\draw[ar] (Lachieve.east) -- (cph.west);
\draw[ln] (pdis.south) -- (gingB.north east);
\draw[ln] (pdis.south) -- (perioB.north west);
\draw[ln] (gingB.south) -- (Lreversed.north);
\draw[ar] (Lreversed.south) -- (removing.north);
\draw[ln] (removing.south) -- (Lthrough3.north);
\draw[ar] (Lthrough3.south) -- (ohp.north);
\draw[ln] (ohp.south) -- (Lsa10.north);
\draw[ar] (Lsa10.south) |- (brush.east);
\draw[ar] (Lsa10.south) |- (regular.west);
\draw[ar] (Lsa10.south) |- (floss.east);
\draw[ar] (Lsa10.south) |- (mouthw.west);
\draw[ln] (perioB.south) -- (Ltreated.north);
\draw[ar] (Ltreated.south) -- (nonsurg.north east);
\draw[ar] (Ltreated.south) -- (surg.north west);
\draw[ar] ([yshift=14pt]scaling.north) -- (scaling.north);
\draw[ar] (surg.south) |- (bonegr.west);
\draw[ar] (surg.south) |- (gumgr.west);
\draw[ar] (surg.south) |- (flap.west);

% ================= EDGES: HISTOPATHOLOGY =================
\draw[ln] (histo.south) -- (Lofhist.north);
\draw[ln] (Lofhist.west) -- (chg.north |- Lofhist.west) -- (chg.north);
\draw[ln] (Lofhist.east) -- (per.north |- Lofhist.east) -- (per.north);
\draw[ln] (eg.north |- Lofhist.east) -- (eg.north);
\draw[ln] (estg.north |- Lofhist.east) -- (estg.north);
\draw[ar] (chg.east) -- (Lseenas.west);
\draw[ar] (Lseenas.east) -- (scall.west);
\draw[ar] (Lseenas.south) |- (coral.west);
\draw[ar] (Lseenas.south) |- (redalv.west);
\draw[ln] (Lseenas.south) |- (rolledg.west);
\draw[ln] (chg.south) -- (Laka2.north);
\draw[ln] (Laka2.south) -- (initles.north);
\draw[ln] (initles.west) -- (Loccurs1.east);
\draw[ln] (Loccurs1.south) -- (days24.north);
\draw[ln] (initles.south) -- (Lcharby1.north);
\draw[ar] (Lcharby1.south) |- (colldep.west);
\draw[ar] (Lcharby1.south) |- (incvasc.west);
\draw[ar] (Lcharby1.south) |- (gcf.west);
\draw[ln] (colldep.east) -- (Laccom.west);
\draw[ar] (Laccom.east) -- (ct5.west);
\draw[ln] (ct5.south) -- (Lconsists.north);
\draw[ar] (Lconsists.west) -- (mono.east);
\draw[ar] (Lconsists.east) -- (neut.west);
\draw[ar] ([xshift=-6pt]Lconsists.south) -- ([xshift=15pt]macs.north);
\draw[ar] ([xshift=6pt]Lconsists.south) -- ([xshift=-15pt]lymph.north);
\draw[ar] ([xshift=12pt]macs.south) -- ([xshift=-14pt]domin.north);
\draw[ar] ([xshift=-8pt]lymph.south) -- ([xshift=2pt]domin.north);
\draw[ln] (eg.east) -- (Lseehaving.west);
\draw[ln] (Lseehaving.east) -- (bulb.west);
\draw[ar] (Lseehaving.south) |- (gred.west);
\draw[ar] (Lseehaving.south) |- (swell.west);
\draw[ln] (Lseehaving.south) |- (rollm.west);
\draw[ln] (Lseehaving.south) |- (bleed.west);
\draw[ln] (eg.south) -- (Laka3.north);
\draw[ar] (Laka3.south) -- (earlyles.north);
\draw[ln] (earlyles.west) -- (Loccurs2.east);
\draw[ar] (Loccurs2.west) -- (days7.east);
\draw[ln] (earlyles.south) -- (Lcharby2.north);
\foreach \t in {colldes,dilated,fibro,prolif,rete}
  \draw[ar] (Lcharby2.south) |- (\t.west);
\draw[ln] (colldes.east) -- (Laccom2.west);
\draw[ln] ([xshift=15pt]Laccom2.south) -- ([xshift=-55pt]infl15.north);
\draw[ln] (Linvades.north |- rete.south) -- (Linvades.north);
\draw[ar] (Linvades.south) -- (coronal.north);

\draw[ln] (estg.east) -- (Laka4.west);
\draw[ln] (Laka4.east) -- (estles1.west);
\draw[ar] ([yshift=14pt]Lcharby3.north) -- (Lcharby3.north);
\draw[ar] (Lcharby3.west) -| (iirA.north);
\draw[ar] (Lcharby3.south) -- (cisA.north);
\draw[ln] (Lcharby3.east) -- (Lcharby3.east -| ccf.north);
\draw[ar] ([yshift=14pt]ccf.north) -- (ccf.north);
\draw[ar] ([yshift=14pt]Lsa11.north) -- (Lsa11.north);
\draw[ar] (Lsa11.north west) -- ([yshift=-8pt]igcf.east);
\draw[ar] (Lsa11.south west) -- (ilinf.north east);
\draw[ar] (pc1030.east) -- (chronic.west);
\draw[ar] (cisA.south) -- (Lsa12.north);
\foreach \t in {contloss,contepi,extrete,apppock}
  \draw[ar] (Lsa12.south) |- (\t.west);
\draw[ar] (ccf.south) -- (Linclude3.north);
\foreach \t in {magenta,inflgm,smooth}
  \draw[ar] (Linclude3.south) |- (\t.west);
\draw[ar] (magenta.east) -- (Ldueto.west);
\draw[ar] (Ldueto.east) -- (compr.west);
\draw[ln] (compr.south) -- (Lassocw.north);
\draw[ar] (Lassocw.south) -- (interst.north);

\draw[ln] (per.east) -- (Laka5.west);
\draw[ln] (Laka5.east) -- (estles2.west);
\draw[ln] (per.south) -- (Lcharby4.north);
\draw[ln] ([xshift=-10pt]Lcharby4.south) -- ([xshift=25pt]iirB.north);
\draw[ln] ([xshift=10pt]Lcharby4.south) -- ([xshift=-35pt]cisB.north);
\draw[ln] (iirB.south) -- (Lsa13.north);
\draw[ar] (Lsa13.south) |- (extinf.west);
\draw[ar] (Lsa13.south) |- (predom.west);
\draw[ln] (const50.north |- predom.south) -- (const50.north);
\draw[ln] ([xshift=22pt]cisB.south) -- ([xshift=-8pt]Linclude4.north);
\draw[ln] (Linclude4.south) |- (alv.west);
\foreach \t in {pfd,apical,apptrue,grec}
  \draw[ar] (Linclude4.south) |- (\t.west);
\end{tikzpicture}
\end{document}
